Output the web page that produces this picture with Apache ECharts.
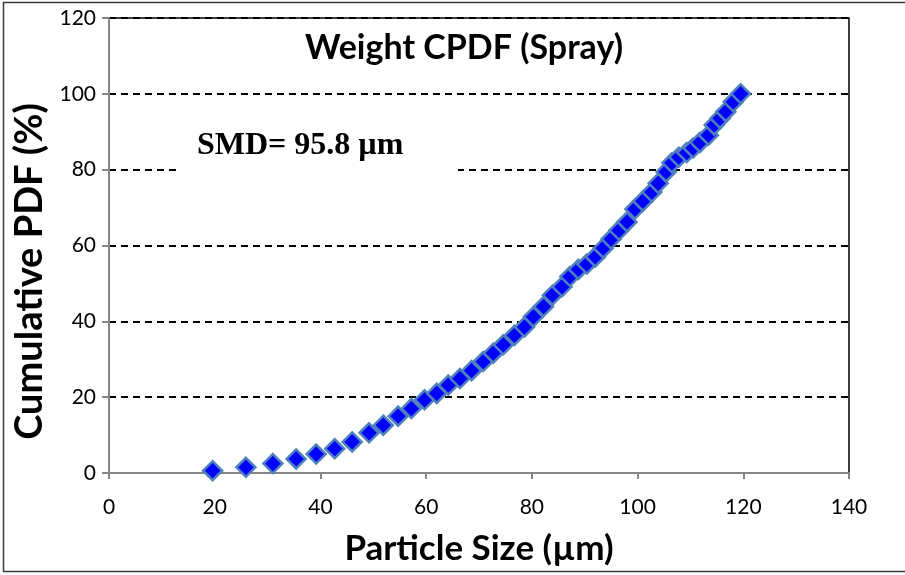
<!DOCTYPE html>
<html>
<head>
<meta charset="utf-8">
<script src="https://cdn.jsdelivr.net/npm/echarts@6/dist/echarts.min.js"></script>
<style>
  html, body { margin: 0; padding: 0; background: #fff; }
  #chart { width: 905px; height: 575px; }
</style>
</head>
<body>
<div id="chart"></div>
<script>
// Particle sizes (µm) of the measured bins
const particleSize = [
  19.6, 25.9, 31.0, 35.4, 39.2, 42.7, 46.0, 49.2, 51.9, 54.7,
  57.2, 59.7, 62.0, 64.2, 66.4, 68.6, 70.8, 72.7, 74.6, 76.7,
  78.6, 80.3, 82.2, 83.9, 85.7, 87.2, 88.8, 90.4, 92.0, 93.5,
  95.0, 96.5, 98.0, 99.5, 101.0, 102.7, 103.9, 105.4, 106.5, 107.8,
  109.3, 110.5, 111.8, 113.4, 114.5, 115.6, 116.7, 118.1, 119.5
];
// Cumulative weight PDF (%) at each size
const cumulativePdf = [
  0.6, 1.5, 2.5, 3.7, 5.0, 6.4, 8.2, 10.6, 12.6, 15.0,
  17.0, 19.3, 21.0, 23.2, 24.9, 27.0, 29.4, 31.6, 33.8, 36.3,
  38.5, 41.2, 43.9, 46.9, 49.1, 51.8, 53.7, 55.1, 57.0, 59.3,
  61.7, 64.0, 66.2, 69.6, 71.7, 74.1, 76.4, 79.4, 81.8, 83.3,
  84.5, 85.7, 87.2, 89.1, 91.8, 93.5, 95.3, 97.9, 100.0
];
const xTicks = [0, 20, 40, 60, 80, 100, 120, 140];
const yTicks = [0, 20, 40, 60, 80, 100, 120];

const chartTitle = 'Weight CPDF (Spray)';
const smdLabel = 'SMD= 95.8 µm';

const points = particleSize.map((s, i) => [s, cumulativePdf[i]]);

const chart = echarts.init(document.getElementById('chart'), null, { renderer: 'canvas' });

const labelFont = 'Lato, "Open Sans", sans-serif';

chart.setOption({
  animation: false,
  backgroundColor: '#ffffff',
  grid: {
    left: 109, right: 56, top: 18, bottom: 102,
    show: true, borderColor: '#000', borderWidth: 1.5, backgroundColor: 'transparent'
  },
  xAxis: {
    type: 'value',
    min: xTicks[0], max: xTicks[xTicks.length - 1], interval: 20,
    name: 'Particle Size (µm)',
    nameLocation: 'middle',
    nameGap: 58,
    nameTextStyle: {
      fontFamily: labelFont, fontWeight: 'bold', fontSize: 35, color: '#000'
    },
    axisLine: { show: true, onZero: false, lineStyle: { color: '#868686', width: 2 } },
    axisTick: { show: true, length: 6, inside: false, lineStyle: { color: '#868686', width: 2 } },
    axisLabel: { color: '#000', fontFamily: labelFont, fontSize: 21, margin: 24 },
    splitLine: { show: false }
  },
  yAxis: {
    type: 'value',
    min: yTicks[0], max: yTicks[yTicks.length - 1], interval: 20,
    name: 'Cumulative PDF (%)',
    nameLocation: 'middle',
    nameRotate: 90,
    nameGap: 46,
    nameTextStyle: {
      fontFamily: labelFont, fontWeight: 'bold', fontSize: 38, color: '#000',
      padding: [0, 52, 0, 0]
    },
    axisLine: { show: true, onZero: false, lineStyle: { color: '#868686', width: 2 } },
    axisTick: { show: true, length: 7, inside: false, lineStyle: { color: '#868686', width: 2 } },
    axisLabel: { color: '#000', fontFamily: labelFont, fontSize: 21, margin: 13 },
    splitLine: { show: true, lineStyle: { color: '#000', width: 2, type: [7, 5] } }
  },
  graphic: [
    {
      type: 'rect', silent: true, z: -10,
      shape: { x: 3.5, y: 2.5, width: 1000, height: 569 },
      style: { fill: 'transparent', stroke: '#3a3a3a', lineWidth: 1.5 }
    },
    {
      type: 'rect', silent: true, z: 50,
      shape: { x: 176, y: 122, width: 282, height: 52 },
      style: { fill: '#ffffff' }
    },
    {
      type: 'text', silent: true, z: 60,
      x: 197, y: 146,
      style: {
        text: smdLabel, fill: '#000',
        font: 'bold 32px "Liberation Serif", "Times New Roman", serif',
        textAlign: 'left', textVerticalAlign: 'middle'
      }
    },
    {
      type: 'text', silent: true, z: 60,
      x: 464, y: 48,
      style: {
        text: chartTitle, fill: '#000',
        font: 'bold 34px Lato, "Open Sans", sans-serif',
        textAlign: 'center', textVerticalAlign: 'middle'
      }
    }
  ],
  series: [{
    type: 'scatter',
    data: points,
    symbol: 'diamond',
    symbolSize: 19,
    itemStyle: { color: '#0000ff', borderColor: '#4f81bd', borderWidth: 2.5, opacity: 1 },
    z: 5
  }]
});
</script>
</body>
</html>
